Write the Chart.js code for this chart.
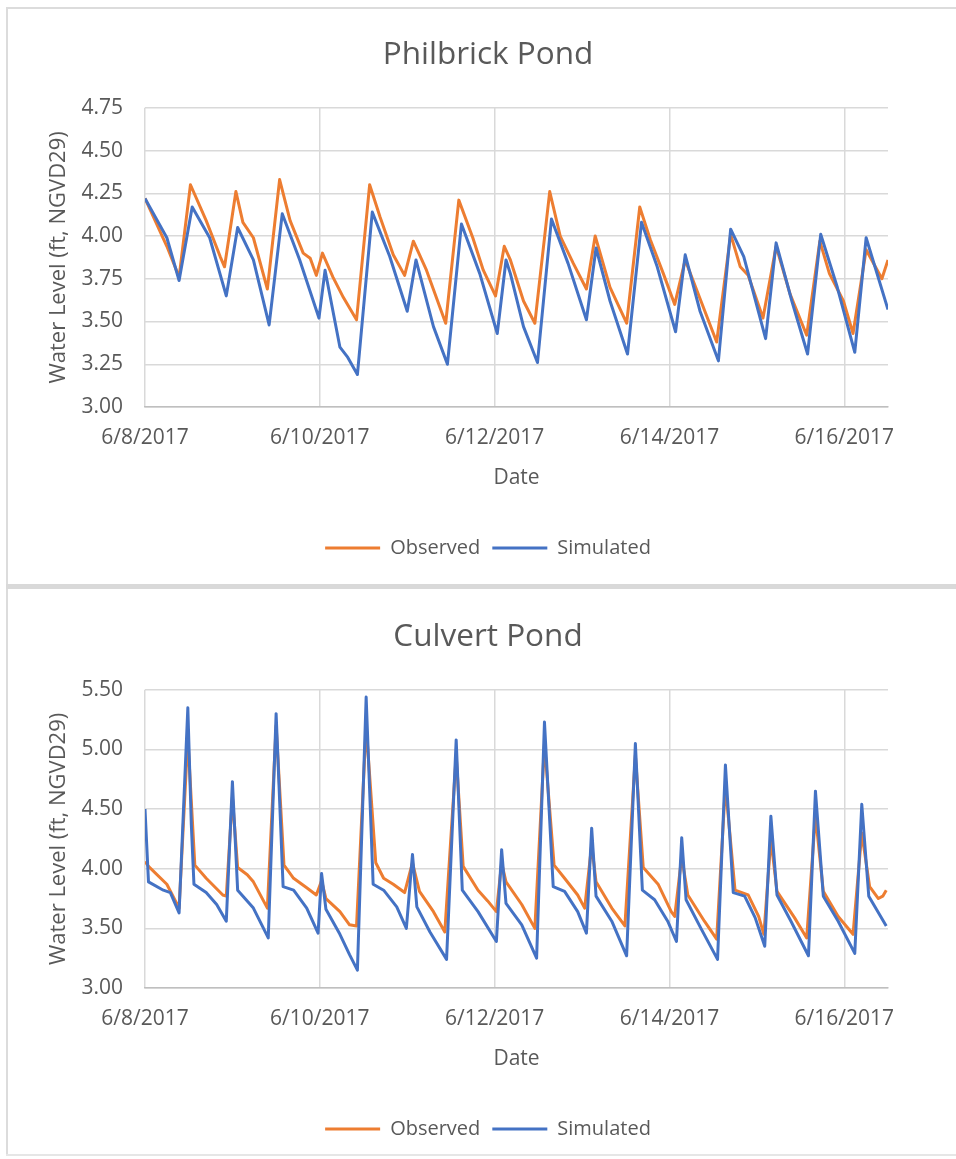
<!DOCTYPE html>
<html>
<head>
<meta charset="utf-8">
<script src="https://cdn.jsdelivr.net/npm/chart.js@4.4.1/dist/chart.umd.min.js"></script>
<style>
  html, body { margin: 0; padding: 0; background: #fff; width: 956px; height: 1159px; overflow: hidden; }
  canvas { position: absolute; display: block; }
  .rule { position: absolute; z-index: 2; }
</style>
</head>
<body>
<div class="rule" style="left:6px;top:7px;width:950px;height:2px;background:#dcdcdc"></div>
<div class="rule" style="left:6px;top:7px;width:2px;height:1149px;background:#dcdcdc"></div>
<div class="rule" style="left:6px;top:584px;width:950px;height:5px;background:#d9d9d9"></div>
<div class="rule" style="left:6px;top:1154px;width:950px;height:2px;background:#e6e6e6"></div>
<canvas id="philbrick" width="960" height="575" style="left:8px;top:9px"></canvas>
<canvas id="culvert" width="960" height="563" style="left:8px;top:591px"></canvas>
<script>
// Time is in days elapsed since 6/8/2017 00:00.
const xTickDays = [0, 2, 4, 6, 8];
const xTickLabels = ['6/8/2017', '6/10/2017', '6/12/2017', '6/14/2017', '6/16/2017'];

// Philbrick Pond
const philYTicks = ['3.00', '3.25', '3.50', '3.75', '4.00', '4.25', '4.50', '4.75'];
const philObsDays = [0.00, 0.25, 0.39, 0.52, 0.70, 0.86, 0.91, 1.04, 1.12, 1.24, 1.40, 1.54, 1.66, 1.81, 1.89, 1.96,
  2.03, 2.15, 2.27, 2.42, 2.57, 2.69, 2.84, 2.97, 3.07, 3.22, 3.44, 3.59, 3.75, 3.87, 4.01, 4.11,
  4.18, 4.33, 4.46, 4.63, 4.75, 4.90, 5.05, 5.15, 5.32, 5.51, 5.66, 5.78, 5.93, 6.06, 6.18, 6.54,
  6.70, 6.81, 6.90, 7.07, 7.22, 7.38, 7.57, 7.72, 7.83, 7.99, 8.10, 8.25, 8.43, 8.50];
const philObsLevel = [4.22, 3.94, 3.76, 4.30, 4.09, 3.88, 3.82, 4.26, 4.08, 3.99, 3.69, 4.33, 4.09, 3.90, 3.87, 3.77,
  3.90, 3.76, 3.64, 3.51, 4.30, 4.11, 3.89, 3.77, 3.97, 3.80, 3.49, 4.21, 3.99, 3.80, 3.65, 3.94,
  3.86, 3.62, 3.49, 4.26, 4.00, 3.84, 3.69, 4.00, 3.70, 3.49, 4.17, 3.98, 3.78, 3.60, 3.86, 3.38,
  4.01, 3.82, 3.77, 3.52, 3.94, 3.66, 3.42, 3.97, 3.78, 3.62, 3.43, 3.92, 3.75, 3.86];
const philSimDays = [0.00, 0.25, 0.39, 0.54, 0.74, 0.93, 1.06, 1.24, 1.42, 1.57, 1.77, 1.99, 2.06, 2.23, 2.32, 2.43,
  2.60, 2.80, 3.00, 3.10, 3.30, 3.46, 3.62, 3.83, 4.03, 4.13, 4.18, 4.33, 4.49, 4.65, 4.84, 5.05,
  5.16, 5.32, 5.52, 5.68, 5.86, 6.07, 6.18, 6.35, 6.56, 6.70, 6.85, 7.10, 7.22, 7.40, 7.58, 7.73,
  7.92, 8.12, 8.25, 8.50];
const philSimLevel = [4.22, 3.99, 3.74, 4.17, 3.99, 3.65, 4.05, 3.86, 3.48, 4.13, 3.86, 3.52, 3.80, 3.35, 3.29, 3.19,
  4.14, 3.88, 3.56, 3.86, 3.47, 3.25, 4.07, 3.78, 3.43, 3.86, 3.78, 3.47, 3.26, 4.10, 3.84, 3.51,
  3.93, 3.62, 3.31, 4.08, 3.82, 3.44, 3.89, 3.56, 3.27, 4.04, 3.88, 3.40, 3.96, 3.62, 3.31, 4.01,
  3.70, 3.32, 3.99, 3.57];

// Culvert Pond
const culvYTicks = ['3.00', '3.50', '4.00', '4.50', '5.00', '5.50'];
const culvObsDays = [0.00, 0.04, 0.25, 0.39, 0.49, 0.57, 0.70, 0.89, 0.93, 1.00, 1.06, 1.17, 1.24, 1.40, 1.50, 1.59,
  1.70, 1.85, 1.96, 2.02, 2.07, 2.23, 2.34, 2.42, 2.53, 2.64, 2.73, 2.84, 2.97, 3.06, 3.14, 3.30,
  3.43, 3.56, 3.64, 3.81, 3.92, 4.02, 4.08, 4.13, 4.31, 4.46, 4.57, 4.68, 4.80, 4.95, 5.03, 5.11,
  5.16, 5.34, 5.49, 5.61, 5.70, 5.87, 6.02, 6.06, 6.14, 6.21, 6.40, 6.54, 6.64, 6.75, 6.90, 7.02,
  7.08, 7.16, 7.23, 7.43, 7.57, 7.67, 7.76, 7.93, 8.10, 8.20, 8.29, 8.39, 8.44, 8.48];
const culvObsLevel = [4.06, 4.02, 3.87, 3.67, 5.10, 4.03, 3.92, 3.78, 3.77, 4.60, 4.01, 3.95, 3.89, 3.67, 5.20, 4.03,
  3.92, 3.84, 3.78, 3.90, 3.75, 3.64, 3.53, 3.52, 5.20, 4.05, 3.92, 3.87, 3.80, 4.05, 3.81, 3.64,
  3.47, 4.95, 4.02, 3.82, 3.73, 3.64, 4.05, 3.89, 3.70, 3.50, 5.05, 4.03, 3.92, 3.78, 3.67, 4.20,
  3.89, 3.67, 3.52, 4.95, 4.01, 3.87, 3.64, 3.60, 4.10, 3.78, 3.56, 3.41, 4.70, 3.82, 3.78, 3.60,
  3.45, 4.25, 3.81, 3.59, 3.42, 4.45, 3.81, 3.60, 3.45, 4.30, 3.85, 3.75, 3.77, 3.82];
const culvSimDays = [0.00, 0.04, 0.21, 0.29, 0.39, 0.49, 0.53, 0.56, 0.70, 0.82, 0.93, 1.00, 1.06, 1.24, 1.41, 1.50,
  1.58, 1.70, 1.85, 1.98, 2.02, 2.07, 2.23, 2.34, 2.43, 2.53, 2.61, 2.73, 2.88, 2.99, 3.06, 3.11,
  3.26, 3.45, 3.56, 3.63, 3.81, 4.02, 4.08, 4.13, 4.31, 4.48, 4.57, 4.67, 4.80, 4.95, 5.05, 5.11,
  5.16, 5.34, 5.51, 5.61, 5.69, 5.83, 5.98, 6.08, 6.14, 6.19, 6.36, 6.55, 6.64, 6.73, 6.86, 6.98,
  7.09, 7.16, 7.23, 7.39, 7.59, 7.67, 7.76, 7.93, 8.12, 8.20, 8.28, 8.48];
const culvSimLevel = [4.50, 3.89, 3.82, 3.80, 3.63, 5.35, 4.37, 3.87, 3.80, 3.70, 3.56, 4.73, 3.82, 3.67, 3.42, 5.30,
  3.85, 3.82, 3.67, 3.46, 3.96, 3.66, 3.45, 3.28, 3.15, 5.44, 3.87, 3.82, 3.68, 3.50, 4.12, 3.68,
  3.47, 3.24, 5.08, 3.82, 3.64, 3.39, 4.16, 3.71, 3.53, 3.25, 5.23, 3.85, 3.81, 3.64, 3.46, 4.34,
  3.77, 3.56, 3.27, 5.05, 3.82, 3.74, 3.56, 3.39, 4.26, 3.74, 3.50, 3.24, 4.87, 3.80, 3.77, 3.59,
  3.35, 4.44, 3.78, 3.56, 3.27, 4.65, 3.77, 3.56, 3.29, 4.54, 3.77, 3.52];

const FONT = '"Open Sans", "Noto Sans", sans-serif';
const TEXT = '#595959';
const GRID = '#d9d9d9';

function points(days, level) {
  return days.map((d, i) => ({ x: d, y: level[i] }));
}

function drawPond(canvasId, title, obsDays, obsLevel, simDays, simLevel, yTicks, yMin, yStep, bottomPad) {
  const yMax = yMin + yStep * (yTicks.length - 1);
  const series = (label, data, color) => ({
    label, data, borderColor: color, backgroundColor: color,
    borderWidth: 3, pointRadius: 0, tension: 0, borderJoinStyle: 'round'
  });
  return new Chart(document.getElementById(canvasId), {
    type: 'line',
    data: {
      datasets: [
        series('Simulated', points(simDays, simLevel), '#4472C4'),
        series('Observed', points(obsDays, obsLevel), '#ED7D31')
      ]
    },
    options: {
      responsive: false,
      animation: false,
      devicePixelRatio: 1,
      layout: { padding: { left: 0, right: 0, top: 0, bottom: bottomPad } },
      plugins: {
        title: {
          display: true, text: title, color: TEXT,
          font: { family: FONT, size: 31.5, weight: 'normal' },
          padding: { top: 27, bottom: 34 }
        },
        legend: {
          position: 'bottom', reverse: true,
          labels: {
            usePointStyle: true, pointStyle: 'line', pointStyleWidth: 55,
            color: TEXT, font: { family: FONT, size: 20 }, padding: 12
          }
        },
        tooltip: { enabled: false }
      },
      scales: {
        x: {
          type: 'linear', min: 0, max: 8.5,
          ticks: {
            stepSize: 2, includeBounds: false, autoSkip: false, maxRotation: 0, padding: 18,
            color: TEXT, font: { family: FONT, size: 21 },
            callback: (v) => { const i = xTickDays.indexOf(v); return i < 0 ? '' : xTickLabels[i]; }
          },
          grid: { color: GRID, lineWidth: 1.5, drawTicks: false },
          border: { display: true, color: '#bfbfbf', width: 1.5 },
          title: {
            display: true, text: 'Date', color: TEXT,
            font: { family: FONT, size: 21 }, padding: { top: 0, bottom: 35 }
          },
          afterFit: (s) => { s.height = 119; }
        },
        y: {
          min: yMin, max: yMax,
          ticks: {
            stepSize: yStep, padding: 22, color: TEXT, font: { family: FONT, size: 21 },
            callback: (v) => yTicks[Math.round((v - yMin) / yStep)]
          },
          grid: { color: GRID, lineWidth: 1.5, drawTicks: false },
          border: { display: false },
          title: {
            display: true, text: 'Water Level (ft, NGVD29)', color: TEXT,
            font: { family: FONT, size: 22 }, padding: { top: 38, bottom: 0 }
          },
          afterFit: (s) => { s.width = 137; }
        },
        // empty right-hand margin so the title and legend centre on the full card
        margin: {
          position: 'right', min: 0, max: 1,
          ticks: { display: false },
          grid: { display: false, drawTicks: false },
          border: { display: false },
          afterFit: (s) => { s.width = 80; }
        }
      }
    }
  });
}

drawPond('philbrick', 'Philbrick Pond', philObsDays, philObsLevel, philSimDays, philSimLevel, philYTicks, 3.0, 0.25, 16);
drawPond('culvert', 'Culvert Pond', culvObsDays, culvObsLevel, culvSimDays, culvSimLevel, culvYTicks, 3.0, 0.5, 5);
</script>
</body>
</html>
